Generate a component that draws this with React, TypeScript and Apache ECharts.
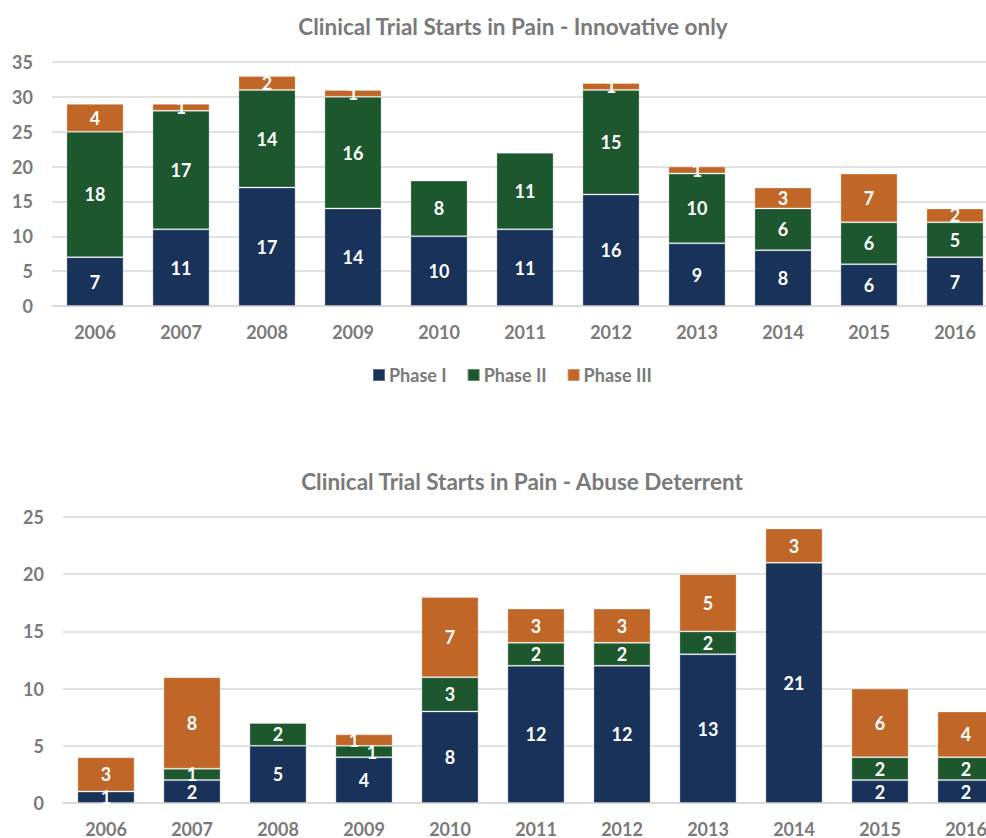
import React, { useEffect, useRef } from "react";
import * as echarts from "echarts";

// Years on the category axis
const years = ["2006", "2007", "2008", "2009", "2010", "2011", "2012", "2013", "2014", "2015", "2016"];

// Innovative only: trial starts per phase
const innovPhase1 = [7, 11, 17, 14, 10, 11, 16, 9, 8, 6, 7];
const innovPhase2 = [18, 17, 14, 16, 8, 11, 15, 10, 6, 6, 5];
const innovPhase3 = [4, 1, 2, 1, null, null, 1, 1, 3, 7, 2];

// Abuse deterrent: trial starts per phase
const abusePhase1 = [1, 2, 5, 4, 8, 12, 12, 13, 21, 2, 2];
const abusePhase2 = [null, 1, 2, 1, 3, 2, 2, 2, null, 2, 2];
const abusePhase3 = [3, 8, null, 1, 7, 3, 3, 5, 3, 6, 4];

const phaseNames = ["Phase I", "Phase II", "Phase III"];
const phaseColors = ["#18325a", "#1d572e", "#c06626"];

const FONT = "Lato, 'Noto Sans', sans-serif";
const GREY = "#7a7a7a";

// The plot runs past the right edge of the visible frame, so the canvas is wider than the frame
const FRAME_W = 986;
const FRAME_H = 838;
const CANVAS_W = 1030;

export default function App() {
  const ref = useRef<HTMLDivElement>(null);

  useEffect(() => {
    if (!ref.current) return;
    const chart = echarts.init(ref.current, null, { renderer: "svg" });

    const grids = [
      { left: 52, top: 62, width: 946, height: 244 },
      { left: 63, top: 517, width: 946, height: 287 },
    ];

    const makeX = (gridIndex: number, margin: number) => ({
      type: "category",
      gridIndex,
      data: years,
      axisLine: { show: true, lineStyle: { color: "#d9d9d9", width: 1.5 } },
      axisTick: { show: false },
      axisLabel: { color: GREY, fontFamily: FONT, fontWeight: "bold", fontSize: 18, margin },
    });

    const makeY = (gridIndex: number, max: number) => ({
      type: "value",
      gridIndex,
      min: 0,
      max,
      interval: 5,
      axisLine: { show: false },
      axisTick: { show: false },
      splitLine: { lineStyle: { color: "#d9d9d9", width: 1.5 } },
      axisLabel: { color: GREY, fontFamily: FONT, fontWeight: "bold", fontSize: 18, margin: 19 },
    });

    const labelStyle = {
      show: true,
      position: "inside",
      color: "#ffffff",
      fontFamily: FONT,
      fontWeight: "bold",
      fontSize: 18,
    };

    const makeSeries = (
      idx: number,
      stack: string,
      values: (number | null)[][],
      offsets: Record<string, [number, number]> = {}
    ) =>
      values.map((vals, p) => ({
        name: phaseNames[p],
        type: "bar",
        stack,
        xAxisIndex: idx,
        yAxisIndex: idx,
        barCategoryGap: "33.5%",
        itemStyle: { color: phaseColors[p], borderColor: "rgba(255,255,255,0.3)", borderWidth: 1 },
        label: labelStyle,
        data: vals.map((v, i) => {
          const off = offsets[`${p}-${i}`];
          return off ? { value: v, label: { offset: off } } : v;
        }),
      }));

    const option = {
      animation: false,
      backgroundColor: "#ffffff",
      title: [
        {
          text: "Clinical Trial Starts in Pain - Innovative only",
          left: 508,
          top: 10,
          textAlign: "center",
          textStyle: { color: GREY, fontFamily: FONT, fontWeight: "bold", fontSize: 22.5 },
        },
        {
          text: "Clinical Trial Starts in Pain - Abuse Deterrent",
          left: 517,
          top: 465,
          textAlign: "center",
          textStyle: { color: GREY, fontFamily: FONT, fontWeight: "bold", fontSize: 22.5 },
        },
      ],
      legend: {
        data: phaseNames,
        left: 372,
        top: 366,
        padding: 0,
        icon: "rect",
        itemWidth: 12,
        itemHeight: 12,
        itemGap: 20,
        textStyle: { color: GREY, fontFamily: FONT, fontWeight: "bold", fontSize: 18, padding: [0, 0, 0, -1] },
      },
      grid: grids,
      xAxis: [makeX(0, 17), makeX(1, 17)],
      yAxis: [makeY(0, 35), makeY(1, 25)],
      series: [
        ...makeSeries(0, "innov", [innovPhase1, innovPhase2, innovPhase3]),
        ...makeSeries(1, "abuse", [abusePhase1, abusePhase2, abusePhase3], {
          "1-3": [8, 0],
          "2-3": [-10, 0],
        }),
      ],
    };

    chart.setOption(option as any);
    return () => chart.dispose();
  }, []);

  return (
    <div
      style={{
        position: "absolute",
        left: 0,
        top: 0,
        width: FRAME_W,
        height: FRAME_H,
        overflow: "hidden",
        background: "#fff",
      }}
    >
      <div ref={ref} style={{ width: CANVAS_W, height: FRAME_H }} />
    </div>
  );
}
